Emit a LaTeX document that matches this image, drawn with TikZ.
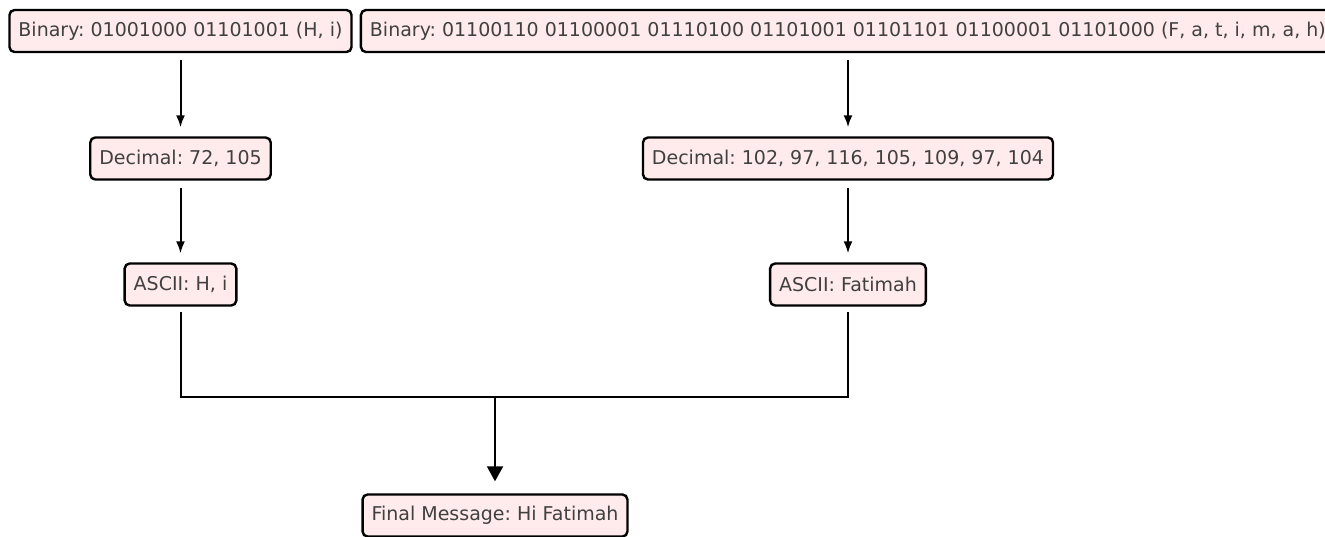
\documentclass[tikz,border=0pt]{standalone}
\usepackage{fontspec}
\setmainfont{DejaVu Sans}
\usetikzlibrary{arrows.meta}
\frenchspacing

\begin{document}
\begin{tikzpicture}[x=1pt, y=-1pt,
	box/.style={draw=black, line width=2.4pt, fill=pink!32!white, rounded corners=5pt,
		text=black!75, font=\fontsize{19}{22}\selectfont,
		minimum height=42pt, inner xsep=9pt, inner ysep=2pt},
	flow/.style={black, line width=2pt, -{Latex[length=12pt,width=9pt]}},
	joint/.style={black, line width=2pt},
	bigflow/.style={black, line width=2pt, -{Triangle[length=15pt,width=16pt]}}]
	
	% FRAME
	\useasboundingbox (0,0) rectangle (1325,536);
	
	% Binary
	\node[box] (bin1) at (180.5, 31) {Binary: 01001000 01101001 (H, i)};
	\node[box] (bin2) at (848, 31) {Binary: 01100110 01100001 01110100 01101001 01101101 01100001 01101000 (F, a, t, i, m, a, h)};
	
	% Decimal
	\node[box] (dec1) at (180.5, 158.5) {Decimal: 72, 105};
	\node[box] (dec2) at (848, 158.5) {Decimal: 102, 97, 116, 105, 109, 97, 104};
	
	% ASCII
	\node[box] (asc1) at (180.5, 284.5) {ASCII: H, i};
	\node[box] (asc2) at (848, 284.5) {ASCII: Fatimah};
	
	% Final
	\node[box] (fin) at (495, 515.5) {Final Message: Hi Fatimah};
	\coordinate (join) at (495, 397);
	
	% arrows
	\draw[flow, shorten <=7pt, shorten >=9pt] (bin1.south) -- (dec1.north);
	\draw[flow, shorten <=7pt, shorten >=9pt] (bin2.south) -- (dec2.north);
	\draw[flow, shorten <=7pt, shorten >=9pt] (dec1.south) -- (asc1.north);
	\draw[flow, shorten <=7pt, shorten >=9pt] (dec2.south) -- (asc2.north);
	
	\draw[joint, shorten <=5pt, shorten >=5pt] (asc1.south) |- (join) -| (asc2.south);
	\draw[bigflow, shorten >=12pt] (join) -- (fin.north);
	
\end{tikzpicture}
\end{document}
